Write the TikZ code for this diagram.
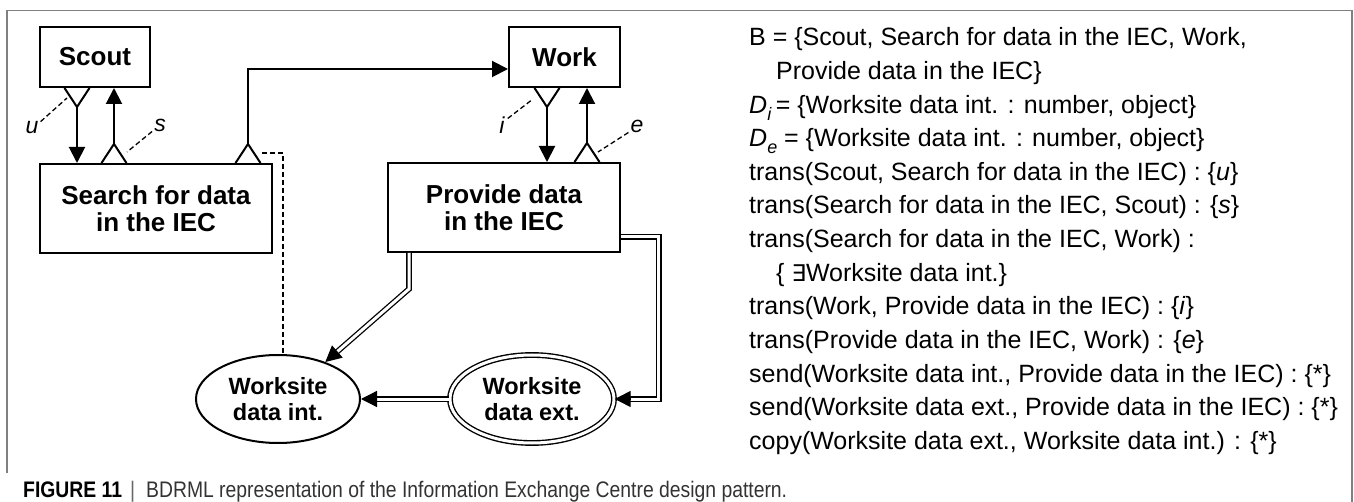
\documentclass[tikz,border=0pt]{standalone}
\usepackage{fontspec}
\setmainfont{Liberation Sans}
\newfontfamily\boxfont{Liberation Sans}
\newfontfamily\txtfont{Liberation Sans}
\newfontfamily\capfont[FakeStretch=0.86]{Liberation Sans}
\newfontfamily\symfont{DejaVu Sans}
\usetikzlibrary{shapes.geometric,arrows.meta,calc}
\begin{document}
\begin{tikzpicture}[x=1pt,y=-1pt,
  box/.style={draw, line width=2pt, rectangle, inner sep=0pt, align=center,
    font=\boxfont\bfseries\fontsize{26}{27}\selectfont},
  ell/.style={draw, ellipse, line width=2pt, inner sep=0pt, align=center,
    minimum width=164pt, minimum height=88pt,
    font=\boxfont\bfseries\fontsize{23.5}{26}\selectfont},
  arr/.style={line width=2pt, -{Triangle[length=16pt,width=16pt]}},
  tipln/.style={line width=1.3pt, -{Triangle[length=16pt,width=16pt]}},
  trid/.pic={\draw[line width=2pt, line join=miter] (-12.5,0) -- (0,19) -- (12.5,0);},
  triu/.pic={\draw[line width=2pt, line join=miter] (-12.5,0) -- (0,-19) -- (12.5,0);},
  dbl/.style={double, double distance=3pt, line width=1.3pt, shorten >=15pt},
  dsh/.style={line width=1.3pt, dash pattern=on 5pt off 3pt},
  lbl/.style={font=\itshape\fontsize{23}{24}\selectfont, inner sep=0pt},
  txt/.style={anchor=base west, inner sep=0pt, font=\txtfont\fontsize{25}{27}\selectfont},
  frame/.style={draw=black!50, line width=1.5pt}]
\useasboundingbox (0,0) rectangle (1354,502);
% frame
\draw[frame] (7,473) -- (7,10.5) -- (1352,10.5) -- (1352,502);

% boxes
\node[box, minimum width=110pt, minimum height=60pt] (scout) at (95,57) {Scout};
\node[box, minimum width=232pt, minimum height=89pt] (search) at (156,208.5) {Search for data\\in the IEC};
\node[box, minimum width=111pt, minimum height=60pt] (work) at (564.5,57) {Work};
\node[box, minimum width=232pt, minimum height=89pt] (prov) at (504,207.5) {Provide data\\in the IEC};
\node[ell] (int) at (278,399) {Worksite\\data int.};
\node[ell, double, double distance=3pt, line width=1.4pt] (ext) at (532,399) {Worksite\\data ext.};

% transitions Scout <-> Search
\coordinate (u1) at ($(scout.south)+(-18,0)$);
\coordinate (s1) at ($(search.north west)+(75,0)$);
\pic at (u1) {trid};
\pic at (s1) {triu};
\draw[arr] ($(u1)+(0,19)$) -- (u1 |- search.north);
\draw[arr] ($(s1)+(0,-19)$) -- (s1 |- scout.south);
% Search -> Work
\coordinate (w1) at ($(search.north east)+(-25,0)$);
\pic at (w1) {triu};
\draw[arr] ($(w1)+(0,-19)$) |- ($(work.west)+(0,12)$);
% Work <-> Provide
\coordinate (i1) at ($(work.south)+(-17.5,0)$);
\coordinate (e1) at ($(prov.north east)+(-34,0)$);
\pic at (i1) {trid};
\pic at (e1) {triu};
\draw[arr] ($(i1)+(0,19)$) -- (i1 |- prov.north);
\draw[arr] ($(e1)+(0,-19)$) -- (e1 |- work.south);

% labels
\node[lbl] (lu) at (32,128) {u};
\node[lbl] (ls) at (160,125) {s};
\node[lbl] (li) at (502,125) {i};
\node[lbl] (le) at (637,126) {e};
\coordinate (cu) at (67,98);
\coordinate (cs) at (127,152);
\coordinate (ci) at (533,99);
\coordinate (ce) at (598,152);
\draw[dsh] ($(lu.north east)+(2,0)$) -- (cu);
\draw[dsh] ($(ls.south west)+(-2,0)$) -- (cs);
\draw[dsh] ($(li.north east)+(3,2)$) -- (ci);
\draw[dsh] ($(le.south west)+(-2,0)$) -- (ce);

% dashed from search->work trigger to int
\coordinate (d1) at (262,153);
\draw[dsh] (d1) -| ($(int.north)+(5,0)$);

% double connectors
\coordinate (p1) at ($(prov.south west)+(22,0)$);
\coordinate (p2) at ($(prov.south west)+(22,36)$);
\draw[dbl] (p1) -- (p2) -- (int.38);
\draw[tipln] ($(int.38)!15pt!(p2)$) -- (int.38);
\coordinate (q1) at ($(prov.east)+(0,29.5)$);
\coordinate (q2) at ($(ext.east)+(44,0)$);
\draw[dbl] (q1) -| (q2) -- (ext.east);
\draw[tipln] ($(ext.east)+(15,0)$) -- (ext.east);
\draw[dbl] (ext.west) -- (int.east);
\draw[tipln] ($(int.east)+(15,0)$) -- (int.east);

% right text
\node[txt] (t0) at (749,46) {B = \{Scout, Search for data in the IEC, Work,};
\node[txt] (t1) at (776,79.6) {Provide data in the IEC\}};
\node[txt] (t2) at (749,113.2) {\textit{D}\raisebox{-7pt}{\fontsize{18}{20}\selectfont\textit{i}}\,= \{Worksite data int. : number, object\}};
\node[txt] (t3) at (749,146.8) {\textit{D}\raisebox{-7pt}{\fontsize{18}{20}\selectfont\textit{e}} = \{Worksite data int. : number, object\}};
\node[txt] (t4) at (749,180.4) {trans(Scout, Search for data in the IEC) : \{\textit{u}\}};
\node[txt] (t5) at (749,214) {trans(Search for data in the IEC, Scout) : \{\textit{s}\}};
\node[txt] (t6) at (749,247.6) {trans(Search for data in the IEC, Work) :};
\node[txt] (t7) at (776,281.2) {\{ {\symfont\fontsize{23}{24}\selectfont ∃}Worksite data int.\}};
\node[txt] (t8) at (749,314.8) {trans(Work, Provide data in the IEC) : \{\textit{i}\}};
\node[txt] (t9) at (749,348.4) {trans(Provide data in the IEC, Work) : \{\textit{e}\}};
\node[txt] (t10) at (749,382) {send(Worksite data int., Provide data in the IEC) : \{*\}};
\node[txt] (t11) at (749,415.6) {send(Worksite data ext., Provide data in the IEC) : \{*\}};
\node[txt] (t12) at (749,449.2) {copy(Worksite data ext., Worksite data int.) : \{*\}};

% caption
\node[anchor=base west, inner sep=0pt, font=\capfont\fontsize{22.5}{24}\selectfont] (cap) at (23,497)
  {\textbf{FIGURE 11}\hspace{8pt}{\color{black!60}|}\hspace{11pt}{\color{black!80}BDRML representation of the Information Exchange Centre design pattern.}};
\end{tikzpicture}
\end{document}
